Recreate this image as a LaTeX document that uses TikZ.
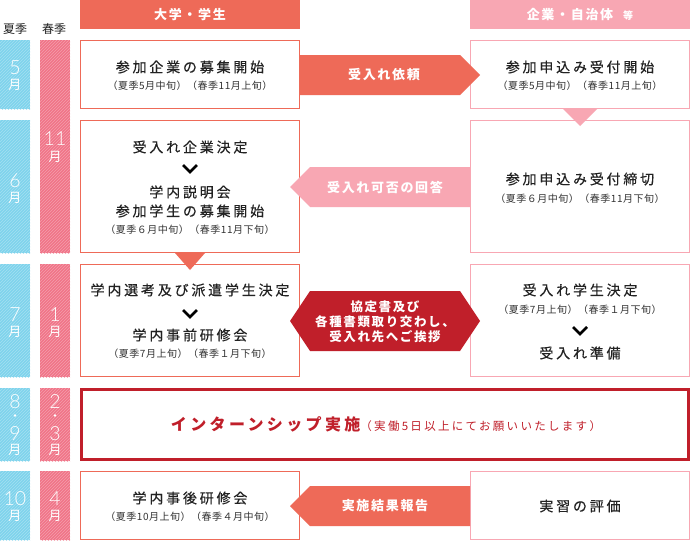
\documentclass[tikz,border=0pt]{standalone}
\usepackage{fontspec}
\setmainfont{Noto Sans CJK JP}
\newfontfamily\titlef{Noto Sans CJK JP}[LetterSpace=20,FakeBold=0.4]
\newfontfamily\subf{Noto Sans CJK JP}[LetterSpace=5]
\newfontfamily\headf{Noto Sans CJK JP}[LetterSpace=13]
\newfontfamily\bigf{Noto Sans CJK JP}[LetterSpace=21]
\newfontfamily\notef{Noto Sans CJK JP}[LetterSpace=20]
\newfontfamily\monf{Noto Sans CJK JP}
\newfontfamily\digf{Lato Light}
\usetikzlibrary{patterns}
\definecolor{sky}{HTML}{7ED3EC}
\definecolor{rose}{HTML}{F07488}
\definecolor{coral}{HTML}{EE6A58}
\definecolor{blush}{HTML}{F8A7B3}
\definecolor{crimson}{HTML}{C01F2A}
\definecolor{ink}{HTML}{222222}
\definecolor{subink}{HTML}{333333}
\tikzset{
  bar/.style={inner sep=0pt, outer sep=0pt, postaction={pattern=north east lines, pattern color=white!30!#1}},
  lbox/.style={draw=coral, line width=1pt, fill=white, inner sep=0pt},
  rbox/.style={draw=blush, line width=1pt, fill=white, inner sep=0pt},
  ttl/.style={inner sep=0pt, text=ink, font=\titlef\fontsize{14}{16}\selectfont},
  subt/.style={inner sep=0pt, text=subink, font=\subf\fontsize{10}{12}\selectfont},
  hdr/.style={inner sep=0pt, text=white, font=\headf\bfseries\fontsize{13}{15}\selectfont},
  num/.style={inner sep=0pt, anchor=base, text height=13pt, text depth=0pt, text=white, font=\digf\fontsize{19.5}{20}\selectfont},
  mon/.style={inner sep=0pt, anchor=base, text height=10pt, text depth=0pt, text=white, font=\monf\fontsize{13}{14}\selectfont},
  mdot/.style={circle, fill=white, inner sep=0pt, minimum size=2.8pt},
  seas/.style={inner sep=0pt, text=ink, font=\monf\fontsize{12}{14}\selectfont},
  chev/.style={draw=black, line width=2.6pt, miter limit=10},
}
\begin{document}
\begin{tikzpicture}[x=1pt,y=-1pt]
\useasboundingbox (0,0) rectangle (690,541);
\fill[white] (0,0) rectangle (690,541);

% season headers
\node[seas] (sum) at (15,29) {夏季};
\node[seas] (spr) at (54,29) {春季};

% column headers
\fill[coral] (80,0) rectangle (300,29);
\node[hdr] (hl) at (190,15) {大学・学生};
\fill[blush] (470,0) rectangle (690,29);
\node[hdr] (hr) at (580,15) {企業・自治体\hspace{10pt}{\fontsize{10}{12}\selectfont 等}};

% blue bars
\foreach \a/\b in {40/109,120/253,264/377,388/461,471/540}
  \path[fill=sky, bar=sky] (0,\a) rectangle (30,\b);
% pink bars
\foreach \a/\b in {40/253,264/377,388/461,471/540}
  \path[fill=rose, bar=rose] (40,\a) rectangle (70,\b);

% blue labels
\node[num] (b1n) at (15,74) {5};     \node[mon] (b1m) at (15,89) {月};
\node[num] (b2n) at (15,187.5) {6};  \node[mon] (b2m) at (15,202.5) {月};
\node[num] (b3n) at (15,321.5) {7};  \node[mon] (b3m) at (15,336) {月};
\node[num] (b4a) at (15,408) {8};    \node[mdot] (b4d) at (15,415.5) {};
\node[num] (b4b) at (15,440) {9};    \node[mon] (b4m) at (15,454.5) {月};
\node[num] (b5n) at (15,505.5) {10}; \node[mon] (b5m) at (15,520.5) {月};
% pink labels
\node[num] (p1n) at (55,145.5) {11}; \node[mon] (p1m) at (55,161) {月};
\node[num] (p3n) at (55,321.5) {1};  \node[mon] (p3m) at (55,336) {月};
\node[num] (p4a) at (55,408) {2};    \node[mdot] (p4d) at (55,415.5) {};
\node[num] (p4b) at (55,440) {3};    \node[mon] (p4m) at (55,454.5) {月};
\node[num] (p5n) at (55,505.5) {4};  \node[mon] (p5m) at (55,520.5) {月};

% left boxes
\node[lbox, minimum width=219pt, minimum height=68pt] (L1) at (190,74.5) {};
\node[lbox, minimum width=219pt, minimum height=132pt] (L2) at (190,186.5) {};
\node[lbox, minimum width=219pt, minimum height=112pt] (L3) at (190,320.5) {};
\node[lbox, minimum width=219pt, minimum height=68pt] (L5) at (190,505.5) {};
% right boxes
\node[rbox, minimum width=219pt, minimum height=68pt] (R1) at (580,74.5) {};
\node[rbox, minimum width=219pt, minimum height=132pt] (R2) at (580,186.5) {};
\node[rbox, minimum width=219pt, minimum height=112pt] (R3) at (580,320.5) {};
\node[rbox, minimum width=219pt, minimum height=68pt] (R5) at (580,505.5) {};

% triangles between boxes
\fill[coral] (175,253) -- (205,253) -- (190,270) -- cycle;
\fill[blush] (563,109) -- (597,109) -- (580,126) -- cycle;

% arrows
\fill[coral] (300,55) -- (460,55) -- (480,75) -- (460,95) -- (300,95) -- cycle;
\node[hdr] (a1) at (384,75) {受入れ依頼};
\fill[blush] (470,167) -- (310,167) -- (290,187) -- (310,207) -- (470,207) -- cycle;
\node[hdr] (a2) at (385,187) {受入れ可否の回答};
\fill[crimson] (290,321) -- (310,291) -- (460,291) -- (480,321) -- (460,351) -- (310,351) -- cycle;
\node[hdr, align=center, font=\headf\bfseries\fontsize{12.5}{15}\selectfont] (a3) at (385,322) {協定書及び\\各種書類取り交わし、\\受入れ先へご挨拶};
\fill[coral] (470,486) -- (310,486) -- (290,506) -- (310,526) -- (470,526) -- cycle;
\node[hdr] (a4) at (385,506) {実施結果報告};

% left texts
\node[ttl] (t1) at (190,67) {参加企業の募集開始};
\node[subt] (s1) at (190,86) {（夏季5月中旬）（春季11月上旬）};
\node[ttl] (t2a) at (190,147) {受入れ企業決定};
\draw[chev] (183,165) -- (190,172) -- (197,165);
\node[ttl] (t2b) at (190,192) {学内説明会};
\node[ttl] (t2c) at (190,211) {参加学生の募集開始};
\node[subt] (s2) at (190,230) {（夏季６月中旬）（春季11月下旬）};
\node[ttl] (t3a) at (190,290) {学内選考及び派遣学生決定};
\draw[chev] (183,310) -- (190,317) -- (197,310);
\node[ttl] (t3b) at (190,335) {学内事前研修会};
\node[subt] (s3) at (190,354) {（夏季7月上旬）（春季１月下旬）};
\node[ttl] (t5) at (190,498) {学内事後研修会};
\node[subt] (s5) at (190,517) {（夏季10月上旬）（春季４月中旬）};

% right texts
\node[ttl] (u1) at (580,67) {参加申込み受付開始};
\node[subt] (v1) at (580,86) {（夏季5月中旬）（春季11月上旬）};
\node[ttl] (u2) at (580,179) {参加申込み受付締切};
\node[subt] (v2) at (580,199) {（夏季６月中旬）（春季11月下旬）};
\node[ttl] (u3a) at (580,290) {受入れ学生決定};
\node[subt] (v3) at (580,310) {（夏季7月上旬）（春季１月下旬）};
\draw[chev] (573,327) -- (580,334) -- (587,327);
\node[ttl] (u3b) at (580,353) {受入れ準備};
\node[ttl] (u5) at (580,506) {実習の評価};

% internship box
\node[draw=crimson, line width=3pt, inner sep=0pt, minimum width=607pt, minimum height=70pt] (I) at (385,424.5) {};
\node[inner sep=0pt, text=crimson] (it) at (386,424) {{\bigf\bfseries\fontsize{16}{18}\selectfont インターンシップ実施}{\notef\fontsize{11.5}{13}\selectfont （実働5日以上にてお願いいたします）}};
\end{tikzpicture}
\end{document}
